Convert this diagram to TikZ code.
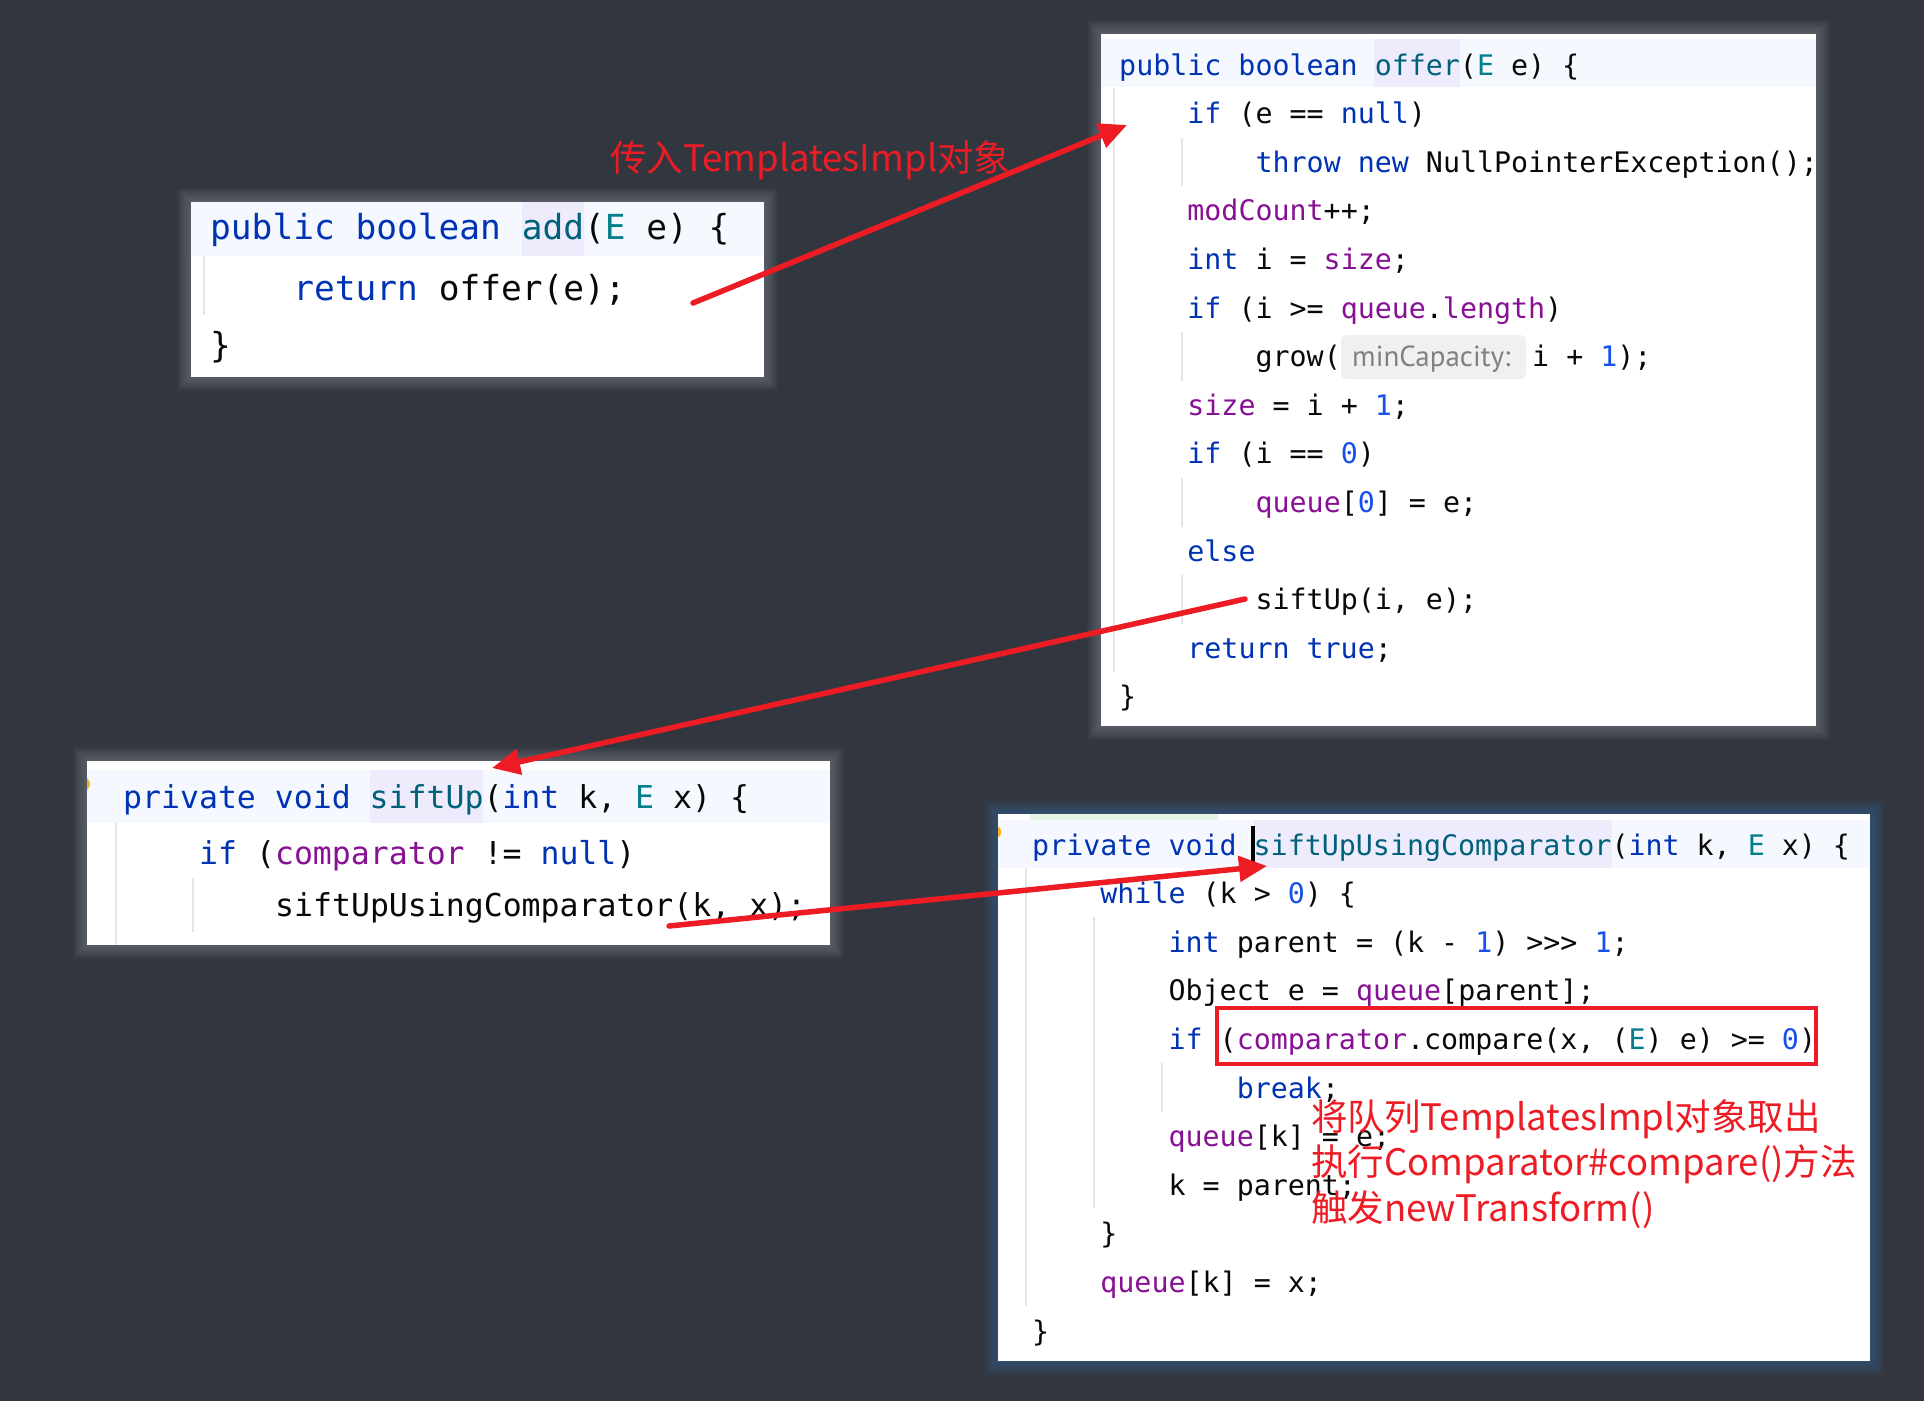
\documentclass[tikz,border=0pt]{standalone}
\usepackage{fontspec}
\usetikzlibrary{arrows.meta}
\newfontfamily\codefont{DejaVu Sans Mono}[Ligatures=TeXOff]
\newfontfamily\cjkfont{Noto Sans CJK SC}
\newfontfamily\hintfont{PT Sans}
\definecolor{bgc}{RGB}{50,55,63}
\definecolor{txt}{RGB}{8,8,8}
\definecolor{kwc}{RGB}{0,51,179}
\definecolor{fnc}{RGB}{0,98,122}
\definecolor{tpc}{RGB}{0,126,138}
\definecolor{fdc}{RGB}{135,16,148}
\definecolor{nuc}{RGB}{23,80,235}
\definecolor{bandc}{RGB}{245,248,254}
\definecolor{hlc}{RGB}{237,235,252}
\definecolor{guidec}{RGB}{228,229,234}
\definecolor{annred}{RGB}{237,28,36}
\definecolor{hintbg}{RGB}{239,240,242}
\definecolor{hinttx}{RGB}{128,128,128}
\definecolor{greenstrip}{RGB}{230,244,228}
\definecolor{dotc}{RGB}{242,176,30}
\definecolor{glowgray}{RGB}{200,205,212}
\definecolor{glowblue}{RGB}{80,130,200}
\newcommand\Kw[1]{\textcolor{kwc}{#1}}
\newcommand\Fn[1]{\textcolor{fnc}{#1}}
\newcommand\Tp[1]{\textcolor{tpc}{#1}}
\newcommand\Fd[1]{\textcolor{fdc}{#1}}
\newcommand\Nu[1]{\textcolor{nuc}{#1}}
\begin{document}
\begin{tikzpicture}[x=1pt,y=-1pt,
  codeA/.style={anchor=base west, inner sep=0pt, text=txt, font={\codefont\fontsize{28.3}{34}\selectfont}},
  codeB/.style={anchor=base west, inner sep=0pt, text=txt, font={\codefont\fontsize{34.5}{40}\selectfont}},
  codeC/.style={anchor=base west, inner sep=0pt, text=txt, font={\codefont\fontsize{31.5}{38}\selectfont}},
  ann/.style={anchor=base west, inner sep=0pt, text=annred, font={\cjkfont\fontsize{36.5}{45}\selectfont}},
  redarrow/.style={draw=annred, line width=5.5pt, line cap=round, -{Triangle[length=28pt,width=25pt]}},
  guide/.style={draw=guidec, line width=1.6pt},
  panel/.style={fill=white},
  band/.style={fill=bandc},
  hl/.style={fill=hlc}]
\fill[bgc] (0,0) rectangle (1924,1401);
\useasboundingbox (0,0) rectangle (1924,1401);

% ---------- panel 1 : add ----------
\foreach \d in {1,...,14} \fill[glowgray,opacity=0.022] (191-\d,202-\d) rectangle (764+\d,377+\d);
\fill[panel] (191,202) rectangle (764,377);
\fill[band] (191,202) rectangle (764,256);
\fill[hl] (522,202) rectangle (584,256);
\draw[guide] (204,256) -- (204,315);
\node[codeB] (p1l0) at (210,239.5) {\Kw{public boolean} \Fn{add}(\Tp{E} e) \{};
\node[codeB] (p1l1) at (293.2,300.5) {\Kw{return} offer(e);};
\node[codeB] (p1l2) at (210,357.5) {\}};

% ---------- panel 2 : offer ----------
\foreach \d in {1,...,14} \fill[glowgray,opacity=0.022] (1101-\d,34-\d) rectangle (1816+\d,726+\d);
\fill[panel] (1101,34) rectangle (1816,726);
\fill[band] (1101,39) rectangle (1816,87);
\fill[hl] (1374,39) rectangle (1460,87);
\draw[guide] (1114,88) -- (1114,672);
\draw[guide] (1182,138) -- (1182,186);
\draw[guide] (1182,332) -- (1182,381);
\draw[guide] (1182,478) -- (1182,527);
\draw[guide] (1182,575) -- (1182,624);
\node[codeA] (p2l0) at (1119,75) {\Kw{public boolean} \Fn{offer}(\Tp{E} e) \{};
\node[codeA] (p2l1) at (1187.2,123.6) {\Kw{if} (e == \Kw{null})};
\node[codeA] (p2l2) at (1255.4,172.2) {\Kw{throw new} NullPointerException();};
\node[codeA] (p2l3) at (1187.2,220.8) {\Fd{modCount}++;};
\node[codeA] (p2l4) at (1187.2,269.4) {\Kw{int} i = \Fd{size};};
\node[codeA] (p2l5) at (1187.2,318) {\Kw{if} (i >= \Fd{queue}.\Fd{length})};
\node[codeA] (p2l6) at (1255.4,366.6) {grow(};
\fill[hintbg, rounded corners=6pt] (1341,335) rectangle (1526,379);
\node[anchor=base west, inner sep=0pt, text=hinttx, font={\hintfont\fontsize{29}{34}\selectfont}] (hint) at (1352,366.6) {minCapacity:};
\node[codeA] (p2l6b) at (1532,366.6) {i + \Nu{1});};
\node[codeA] (p2l7) at (1187.2,415.2) {\Fd{size} = i + \Nu{1};};
\node[codeA] (p2l8) at (1187.2,463.8) {\Kw{if} (i == \Nu{0})};
\node[codeA] (p2l9) at (1255.4,512.4) {\Fd{queue}[\Nu{0}] = e;};
\node[codeA] (p2l10) at (1187.2,561) {\Kw{else}};
\node[codeA] (p2l11) at (1255.4,609.6) {siftUp(i, e);};
\node[codeA] (p2l12) at (1187.2,658.2) {\Kw{return true};};
\node[codeA] (p2l13) at (1119,706.8) {\}};

% ---------- panel 3 : siftUp ----------
\foreach \d in {1,...,14} \fill[glowgray,opacity=0.022] (87-\d,761-\d) rectangle (830+\d,945+\d);
\fill[panel] (87,761) rectangle (830,945);
\fill[band] (87,770) rectangle (830,823);
\fill[hl] (370,770) rectangle (483,823);
\begin{scope}
  \clip (87,761) rectangle (830,945);
  \fill[dotc] (83,784) circle (7);
\end{scope}
\draw[guide] (116,823) -- (116,945);
\draw[guide] (193,878) -- (193,932);
\node[codeC] (p3l0) at (123,808.5) {\Kw{private void} \Fn{siftUp}(\Kw{int} k, \Tp{E} x) \{};
\node[codeC] (p3l1) at (199,864.5) {\Kw{if} (\Fd{comparator} != \Kw{null})};
\node[codeC] (p3l2) at (275,916.5) {siftUpUsingComparator(k, x);};

% ---------- panel 4 : siftUpUsingComparator ----------
\foreach \d in {1,...,14} \fill[glowblue,opacity=0.03] (998-\d,814-\d) rectangle (1870+\d,1361+\d);
\fill[panel] (998,814) rectangle (1870,1361);
\fill[greenstrip] (1030,814) rectangle (1218,820);
\fill[band] (998,820) rectangle (1870,868);
\fill[hl] (1254,820) rectangle (1612,868);
\begin{scope}
  \clip (998,814) rectangle (1870,1361);
  \fill[dotc] (994,832) circle (7);
\end{scope}
\fill[black] (1251,826) rectangle (1255,863);
\draw[guide] (1026,868) -- (1026,1306);
\draw[guide] (1094,917) -- (1094,1208);
\draw[guide] (1162,1063) -- (1162,1112);
\node[codeA] (p4l0) at (1032,855) {\Kw{private void} \Fn{siftUpUsingComparator}(\Kw{int} k, \Tp{E} x) \{};
\node[codeA] (p4l1) at (1100.2,903.6) {\Kw{while} (k > \Nu{0}) \{};
\node[codeA] (p4l2) at (1168.4,952.2) {\Kw{int} parent = (k - \Nu{1}) >>> \Nu{1};};
\node[codeA] (p4l3) at (1168.4,1000.8) {Object e = \Fd{queue}[parent];};
\node[codeA] (p4l4) at (1168.4,1049.4) {\Kw{if} (\Fd{comparator}.compare(x, (\Tp{E}) e) >= \Nu{0})};
\node[codeA] (p4l5) at (1236.6,1098) {\Kw{break};};
\node[codeA] (p4l6) at (1168.4,1146.6) {\Fd{queue}[k] = e;};
\node[codeA] (p4l7) at (1168.4,1195.2) {k = parent;};
\node[codeA] (p4l8) at (1100.2,1243.8) {\}};
\node[codeA] (p4l9) at (1100.2,1292.4) {\Fd{queue}[k] = x;};
\node[codeA] (p4l10) at (1032,1341) {\}};
\draw[annred, line width=3.5pt] (1217,1008) rectangle (1816,1064);

% ---------- annotations ----------
\node[ann] (ann1) at (610,171.5) {传入TemplatesImpl对象};
\node[ann] (ann2a) at (1311,1130.5) {将队列TemplatesImpl对象取出};
\node[ann] (ann2b) at (1311,1175.5) {执行Comparator\#compare()方法};
\node[ann] (ann2c) at (1311,1221.5) {触发newTransform()};

% ---------- arrows ----------
\coordinate (a1s) at (693,303);
\coordinate (a1e) at (1127,125);
\coordinate (a2s) at (1245,599);
\coordinate (a2e) at (492,768);
\coordinate (a3s) at (669,926);
\coordinate (a3e) at (1267,866);
\draw[redarrow] (a1s) -- (a1e);
\draw[redarrow] (a2s) -- (a2e);
\draw[redarrow] (a3s) -- (a3e);
\end{tikzpicture}
\end{document}
